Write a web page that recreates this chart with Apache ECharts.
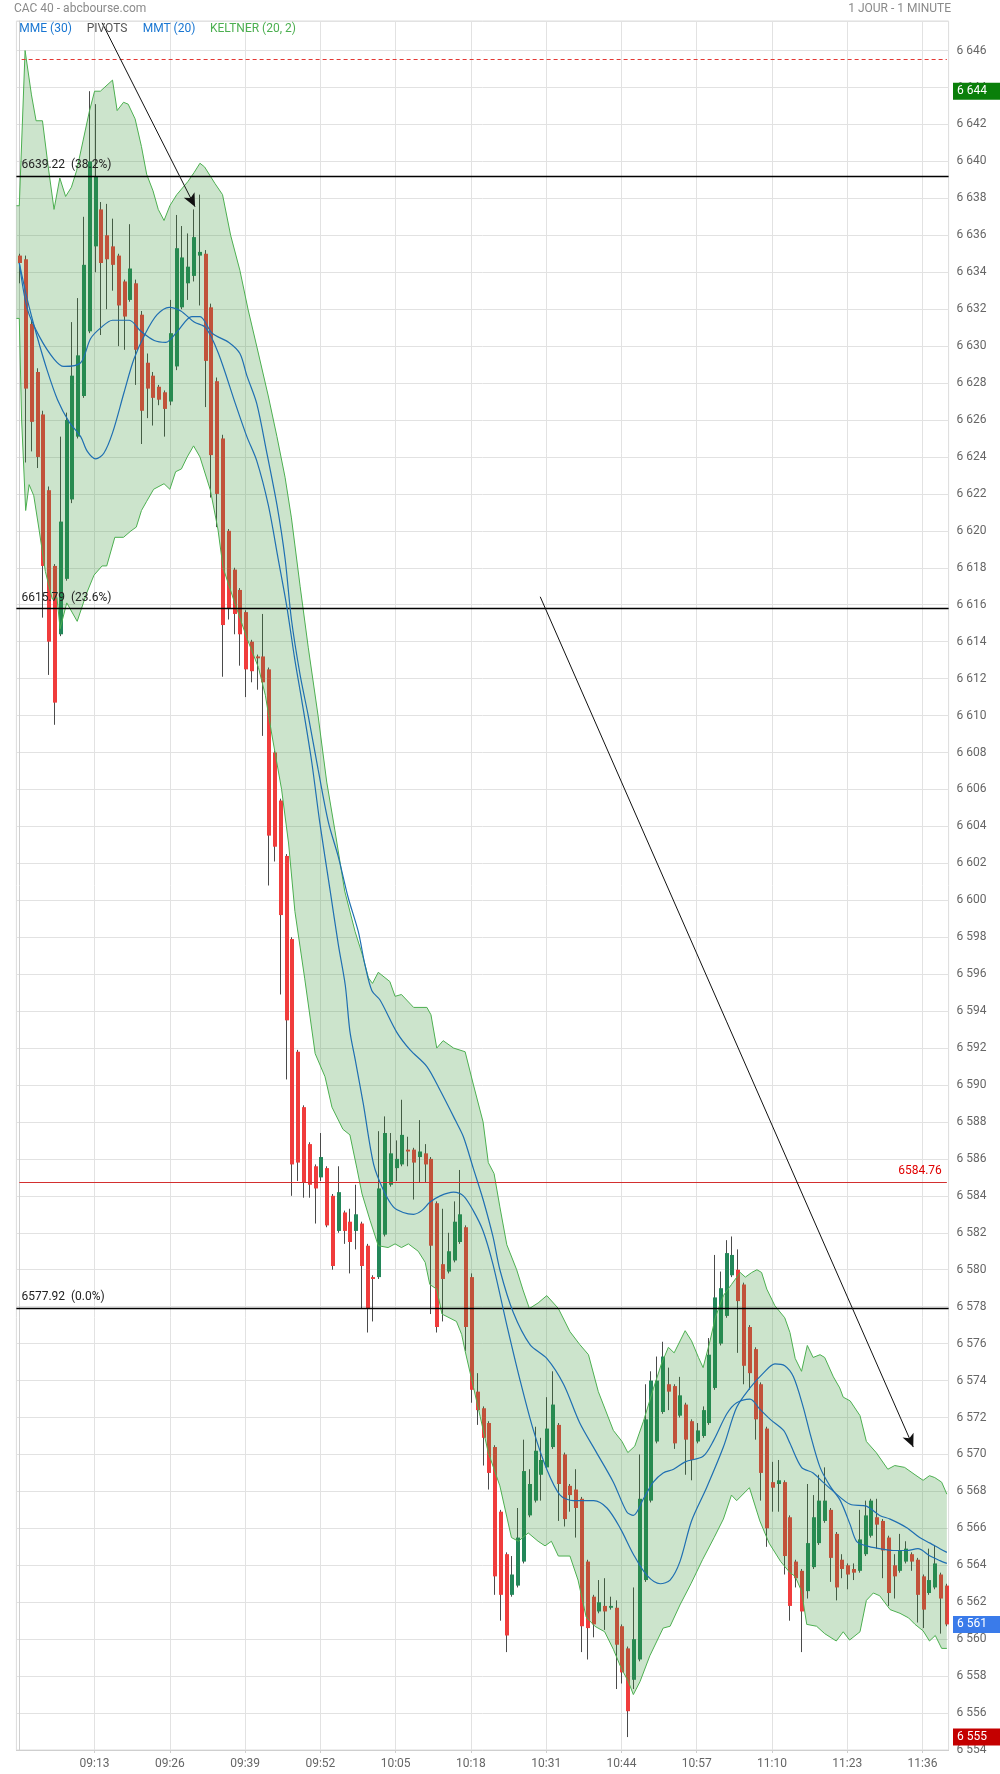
<!DOCTYPE html>
<html><head><meta charset="utf-8">
<script src="https://cdn.jsdelivr.net/npm/echarts@6/dist/echarts.min.js"></script>
<style>html,body{margin:0;padding:0;background:#fff}#c{width:1000px;height:1774px}</style>
</head><body><div id="c"></div>
<script>
// ---- data (1-minute candles from 09:00) ----
const startMinute = 9 * 60;
const timeLabels = ['09:13','09:26','09:39','09:52','10:05','10:18','10:31','10:44','10:57','11:10','11:23','11:36'];
const opens = [
6634.9,6634.7,6631.2,6628.6,6626.3,6622.2,6618.1,6614.4,6617.4,6621.7,
6625.1,6627.3,6630.8,6635.4,6637.4,6636.0,6635.4,6634.9,6633.5,6632.5,
6633.4,6631.7,6629.1,6628.4,6627.8,6627.5,6627.0,6628.9,6632.1,6633.4,
6633.8,6634.9,6635.0,6632.1,6628.1,6625.0,6620.0,6617.9,6616.8,6615.6,
6614.0,6613.2,6613.2,6612.5,6608.0,6605.4,6602.4,6597.9,6591.8,6588.8,
6586.8,6585.6,6585.0,6585.5,6584.0,6582.1,6583.1,6582.6,6582.1,6582.5,
6581.3,6579.6,6579.6,6581.9,6584.6,6585.5,6585.7,6586.5,6586.5,6586.1,
6586.3,6586.0,6583.6,6580.3,6579.9,6580.5,6581.5,6582.3,6579.6,6573.4,
6572.5,6571.7,6570.4,6566.9,6564.6,6562.4,6562.9,6564.2,6566.7,6567.5,
6568.9,6569.3,6570.4,6571.6,6570.0,6568.3,6568.1,6567.6,6564.2,6562.3,
6561.5,6561.8,6561.7,6561.7,6560.7,6559.5,6557.8,6558.9,6563.2,6567.5,
6570.7,6572.3,6573.8,6573.7,6572.1,6572.7,6571.8,6570.7,6571.0,6571.7,
6573.6,6576.0,6577.5,6579.7,6580.0,6579.2,6576.9,6575.7,6573.8,6571.4,
6568.5,6568.4,6568.5,6566.6,6564.2,6563.7,6562.6,6563.9,6565.2,6566.4,
6567.0,6565.7,6564.3,6564.0,6563.8,6563.7,6564.6,6565.6,6566.6,6566.4,
6565.5,6564.0,6563.7,6564.2,6564.6,6564.3,6563.4,6562.5,6562.8,6563.5,
6562.9];
const closes = [
6634.5,6627.7,6625.9,6624.0,6618.1,6614.0,6610.7,6620.5,6626.0,6628.4,
6629.5,6634.4,6640.0,6639.2,6634.5,6634.7,6634.4,6632.2,6631.6,6634.2,
6629.8,6626.5,6627.7,6627.2,6627.1,6626.6,6630.7,6635.3,6634.8,6634.3,
6635.9,6635.1,6629.2,6624.1,6622.0,6614.9,6615.8,6615.5,6614.4,6612.5,
6612.4,6613.1,6611.8,6603.5,6602.9,6599.2,6593.5,6585.7,6585.8,6584.7,
6584.6,6584.4,6586.1,6582.4,6580.2,6584.2,6582.1,6581.5,6583.0,6580.2,
6577.9,6579.5,6584.4,6587.4,6586.3,6586.0,6587.3,6586.4,6585.8,6586.4,
6585.7,6581.3,6576.9,6579.5,6581.0,6582.6,6583.0,6576.9,6573.5,6572.4,
6570.9,6569.0,6563.4,6562.4,6560.2,6563.5,6565.5,6569.1,6568.4,6570.2,
6569.7,6571.4,6572.7,6568.4,6566.5,6567.8,6567.1,6560.7,6560.6,6560.8,
6562.0,6561.5,6561.8,6559.7,6558.2,6556.1,6560.0,6567.6,6571.9,6574.0,
6574.0,6575.3,6573.4,6570.6,6573.2,6570.8,6569.7,6571.3,6572.4,6575.4,
6578.5,6579.0,6580.9,6580.8,6578.3,6574.8,6574.4,6571.9,6569.0,6566.0,
6568.2,6568.6,6564.5,6561.8,6563.3,6561.5,6565.2,6566.6,6567.5,6567.5,
6564.4,6562.8,6563.8,6563.5,6563.6,6565.4,6566.7,6567.5,6566.2,6564.8,
6562.5,6563.4,6564.8,6564.9,6564.2,6562.4,6561.6,6563.2,6564.1,6562.2,
6560.8];
const lows = [
6633.4,6623.7,6624.3,6623.4,6615.3,6612.2,6609.5,6614.3,6617.3,6621.5,
6625.0,6627.2,6630.7,6634.0,6630.6,6632.0,6633.0,6630.0,6629.8,6632.4,
6627.9,6624.7,6626.1,6625.7,6626.8,6625.1,6626.8,6628.7,6632.0,6632.5,
6633.5,6632.2,6626.7,6621.8,6620.2,6612.1,6615.2,6614.4,6612.7,6611.0,
6611.8,6611.4,6608.9,6600.8,6602.1,6594.9,6590.3,6584.0,6584.8,6583.9,
6583.9,6582.5,6584.8,6582.3,6580.0,6582.0,6581.4,6579.8,6581.1,6577.9,
6576.6,6577.2,6579.5,6581.8,6584.5,6584.8,6585.6,6585.6,6583.8,6584.7,
6584.7,6577.6,6576.6,6577.2,6579.8,6580.4,6581.4,6575.6,6572.8,6571.6,
6569.4,6568.1,6562.4,6561.0,6559.3,6562.3,6562.8,6564.1,6566.6,6567.4,
6567.5,6569.2,6570.3,6566.4,6566.1,6566.9,6565.5,6559.3,6558.9,6560.1,
6561.4,6560.5,6561.6,6557.3,6557.6,6554.7,6557.3,6558.8,6563.1,6567.4,
6570.6,6572.2,6572.4,6570.3,6572.0,6568.9,6568.6,6570.6,6570.9,6571.6,
6573.5,6575.9,6577.4,6579.6,6575.5,6573.8,6573.5,6570.8,6567.5,6565.0,
6566.9,6566.9,6563.5,6561.0,6562.8,6559.3,6562.2,6563.8,6565.1,6566.3,
6563.1,6562.1,6563.3,6562.7,6563.2,6563.6,6564.5,6565.5,6564.9,6563.3,
6561.8,6562.2,6563.6,6564.1,6563.7,6560.9,6560.6,6562.4,6562.7,6560.3,
6560.7];
const highs = [
6635.0,6634.9,6631.4,6628.8,6626.5,6622.4,6618.2,6625.1,6626.4,6631.3,
6632.6,6637.0,6643.8,6643.1,6637.8,6637.7,6636.9,6635.0,6633.6,6636.6,
6633.6,6631.9,6629.6,6628.6,6627.9,6627.6,6632.5,6637.1,6636.5,6636.1,
6637.4,6638.2,6635.2,6632.3,6628.3,6625.2,6620.1,6618.0,6616.9,6615.7,
6614.1,6613.3,6615.5,6612.6,6608.1,6605.5,6602.5,6598.0,6591.9,6588.9,
6586.9,6585.7,6587.4,6585.6,6584.1,6585.6,6583.2,6583.3,6584.6,6582.6,
6581.4,6579.7,6587.5,6588.3,6587.4,6587.0,6589.2,6587.2,6586.6,6588.1,
6586.8,6586.1,6583.7,6583.3,6582.0,6583.7,6585.4,6582.4,6579.8,6574.4,
6572.6,6571.8,6570.5,6567.0,6564.7,6564.5,6567.1,6570.8,6569.2,6571.5,
6570.9,6573.1,6574.5,6571.7,6570.1,6568.4,6569.2,6567.7,6564.3,6562.4,
6563.2,6563.3,6562.3,6562.1,6560.8,6559.6,6562.8,6570.0,6573.8,6574.5,
6575.3,6576.1,6574.7,6573.8,6574.2,6572.8,6571.9,6571.7,6572.6,6576.3,
6580.8,6579.9,6581.6,6581.8,6581.1,6579.3,6577.0,6575.8,6573.9,6571.5,
6569.6,6569.7,6568.6,6566.7,6564.3,6563.8,6568.4,6567.8,6568.9,6569.3,
6567.1,6565.8,6564.6,6564.1,6564.1,6567.0,6567.5,6567.6,6567.6,6566.5,
6565.6,6564.6,6565.7,6565.3,6564.7,6564.4,6563.5,6564.9,6565.1,6563.6,
6563.0];
// Keltner (20,2) band edges: [minute index, price]
const keltnerUpper = [[-0.5,6637.6],[0,6637.6],[1,6646.0],[2.1,6643.6],[2.9,6642.2],[4,6642.2],[5,6639.7],[6,6637.4],[7,6639.1],[8,6638.1],[9,6638.6],[9.9,6639.5],[11,6641.1],[12.1,6642.7],[13,6643.8],[14,6643.8],[16.1,6644.4],[16.9,6642.75],[18,6643.2],[18.8,6643.1],[20,6642.3],[21.1,6640.8],[22,6639.3],[23.1,6638.4],[24,6637.4],[25,6636.8],[26,6637.6],[27.2,6638.2],[29.1,6638.9],[30.2,6639.4],[31.2,6639.9],[32,6639.7],[33.8,6638.8],[35.1,6638.2],[36.5,6636.0],[38.1,6634.1],[39.5,6632.0],[41,6630.0],[43,6627.3],[44.5,6625.1],[45.9,6622.9],[47,6620.7],[48.5,6617.0],[49.9,6613.7],[51.6,6610.0],[53.1,6606.4],[54.5,6603.8],[56.2,6600.5],[58,6598.3],[59.3,6597.0],[60.3,6595.8],[61,6595.5],[62,6596.1],[64,6595.6],[64.9,6594.8],[66,6594.9],[68.1,6594.2],[70.4,6594.2],[71.1,6593.8],[72.1,6592.0],[73.2,6592.4],[75,6592.0],[77,6591.8],[78.4,6590.05],[80.1,6588.0],[81,6585.8],[82,6585.2],[83,6583.4],[84.2,6581.35],[85.9,6580.0],[87,6578.9],[88.1,6577.9],[89.6,6578.2],[91.1,6578.6],[93.1,6577.9],[95.1,6576.65],[96.8,6575.95],[98.3,6575.4],[100,6573.4],[102.6,6571.3],[104.1,6570.7],[105.1,6570.1],[106.3,6570.45],[107.8,6571.8],[109.5,6573.55],[110.9,6574.9],[112.1,6575.8],[113.1,6575.5],[115,6576.7],[116.1,6576.15],[117.3,6575.25],[118.1,6574.7],[119.3,6576.15],[120.2,6577.4],[121.6,6578.6],[123,6579.2],[124.5,6579.85],[125.4,6579.6],[126.5,6579.85],[127.4,6580.0],[128.2,6579.85],[129.1,6578.95],[130.5,6578.05],[132.2,6577.4],[133.1,6576.6],[134,6575.2],[135.1,6574.5],[136.1,6575.9],[137.1,6575.25],[138.3,6575.4],[139.1,6575.25],[140.6,6574.2],[141.7,6573.6],[142.3,6573.1],[143.5,6572.9],[145.2,6572.1],[146.3,6570.7],[148,6570.1],[150,6569.2],[151.2,6569.4],[152.9,6569.3],[154.7,6568.9],[156.1,6568.6],[157.2,6568.85],[158.1,6568.75],[159.3,6568.5],[160.2,6567.85]];
const keltnerLower = [[-0.5,6631.5],[0,6631.5],[0.4,6626.0],[1.1,6621.1],[1.7,6622.5],[2.5,6621.9],[3.4,6620.1],[4.5,6617.8],[5.7,6616.3],[6.5,6616.4],[7.05,6614.7],[8.2,6616.1],[10,6615.1],[11.6,6616.6],[12.9,6617.6],[14.3,6618.1],[15.1,6618.1],[16.5,6619.65],[18,6619.65],[19.3,6620.0],[20.2,6620.2],[21.1,6621.1],[22,6621.6],[23.2,6622.25],[25,6622.55],[26,6622.25],[27,6623.2],[28,6623.35],[29,6624.0],[30.1,6624.6],[31.2,6624.0],[33,6622.2],[34.3,6620.1],[35.2,6618.0],[37.1,6616.2],[39.3,6614.2],[41.3,6612.6],[42.5,6611.1],[43.6,6609.0],[45.3,6606.0],[46.5,6603.1],[47.6,6599.4],[49.3,6595.75],[51.1,6591.7],[52.8,6590.45],[54,6588.8],[55.9,6587.6],[57.1,6587.3],[58.3,6585.5],[59.2,6584.1],[60.6,6582.65],[62,6581.3],[63.7,6581.2],[64.9,6581.4],[66,6581.2],[67.2,6581.4],[68.9,6581.0],[70.1,6580.4],[70.9,6579.2],[72.1,6578.95],[73,6577.6],[75.5,6577.2],[76.4,6576.5],[77,6575.6],[79.6,6572.05],[81,6570.1],[83,6568.3],[85,6565.5],[86.2,6565.3],[87.9,6565.75],[89.6,6565.3],[90.8,6565.05],[91.9,6565.3],[93.1,6564.5],[95.1,6564.5],[96.5,6563.2],[97.9,6561.2],[99.4,6560.7],[101.1,6560.4],[102.6,6559.45],[104,6558.4],[105.2,6557.7],[106.05,6557.0],[107.2,6557.7],[108.9,6559.1],[111.2,6560.6],[112.4,6560.7],[114.1,6561.85],[116,6563.0],[118,6564.3],[120,6565.5],[121.6,6566.5],[123,6567.8],[123.9,6567.5],[126.1,6568.2],[127.9,6566.4],[129.5,6565.2],[131.5,6564.2],[133.1,6563.6],[134,6563.4],[135.1,6562.6],[136,6560.8],[137.7,6560.7],[139.1,6560.3],[141.1,6559.9],[142.3,6560.4],[143.4,6559.95],[145.2,6560.4],[146.3,6562.1],[147.5,6562.5],[148.6,6562.35],[150.4,6561.6],[152.1,6561.4],[153.6,6561.15],[154.7,6560.8],[156.1,6560.45],[157.2,6559.9],[158.2,6560.2],[159.3,6559.5],[160.2,6559.5]];
// moving averages
const mmt20 = [[0,6634.5],[1.4,6632.0],[3.5,6630.5],[6,6629.3],[7.7,6628.9],[10.6,6629.1],[12.3,6630.4],[14.1,6631.0],[16.1,6631.4],[19,6631.4],[21,6630.8],[23.3,6630.3],[25.3,6630.2],[27.3,6630.8],[29.8,6631.6],[31.2,6631.6],[33.3,6630.7],[36.2,6630.2],[38.1,6629.6],[39.3,6628.4],[41,6626.9],[42.7,6624.3],[44.5,6621.4],[45.9,6618.5],[47,6615.2],[48.5,6612.2],[49.9,6610.0],[51.6,6607.1],[53.4,6604.2],[55.1,6602.35],[56.8,6600.15],[58.55,6598.3],[59.7,6596.5],[60.9,6595.1],[62.3,6594.6],[65.2,6592.85],[67.5,6591.9],[70.4,6591.0],[72.7,6589.7],[75.3,6588.1],[76.7,6587.2],[78.4,6585.5],[80.1,6583.8],[81.8,6581.8],[83,6580.0],[85.3,6577.7],[88.2,6575.95],[91.1,6575.2],[94,6573.8],[96.8,6571.7],[99.7,6570.1],[102.6,6568.5],[104.9,6566.9],[106.05,6566.7],[107.8,6567.6],[109.5,6568.5],[111.2,6569.0],[113,6569.2],[115,6569.6],[118.1,6569.9],[119.9,6570.75],[122.2,6572.2],[123.9,6572.8],[126.2,6573.0],[127.9,6572.45],[129.7,6571.9],[132,6571.3],[133.1,6570.6],[135.1,6569.3],[137.1,6569.0],[138.8,6568.5],[140.6,6568.0],[143.5,6567.3],[146.3,6567.2],[148.6,6566.7],[150.4,6566.5],[153.2,6566.05],[155.5,6565.5],[157.3,6565.2],[159,6564.9],[160.2,6564.7]];
const mme30 = [[0,6634.5],[1.4,6632.5],[3,6630.6],[4.8,6628.7],[6.6,6627.1],[8.6,6625.9],[10.6,6625.1],[11.75,6624.3],[13.2,6623.9],[14.6,6624.2],[16.1,6625.3],[18.1,6627.5],[19.8,6629.3],[21.8,6630.7],[23.8,6631.7],[25.9,6632.1],[27.9,6631.9],[30.2,6631.3],[32.2,6631.0],[34.4,6629.6],[37.3,6626.9],[39.3,6625.1],[41,6623.8],[43,6621.4],[44.7,6618.5],[46.2,6615.9],[47.6,6613.0],[48.8,6610.8],[50.5,6607.5],[51.9,6604.2],[53.7,6600.5],[55.1,6597.6],[56.3,6595.4],[57.1,6592.9],[58,6591.4],[59.4,6589.0],[61.2,6585.7],[62.9,6584.3],[64.6,6583.4],[66.3,6583.1],[68.1,6583.0],[69.5,6583.2],[70.9,6583.65],[72.7,6584.0],[75,6584.2],[76.7,6584.0],[78.4,6583.2],[80.1,6582.1],[81.8,6580.3],[84.2,6577.0],[86.5,6574.0],[88.8,6571.3],[91.1,6569.2],[93.4,6567.8],[95.7,6567.5],[99.2,6567.5],[101.5,6567.1],[103.8,6566.0],[106.05,6564.6],[108.4,6563.45],[110.7,6563.0],[112.4,6563.2],[114.1,6564.2],[116.1,6566.4],[118.7,6568.2],[121.6,6570.4],[123.9,6572.55],[126.2,6573.6],[128.5,6574.4],[130.5,6574.9],[132.2,6574.8],[133.7,6574.2],[135.4,6572.55],[136.6,6571.1],[138.3,6569.3],[140,6568.3],[141.8,6567.5],[143.5,6566.2],[144.6,6565.3],[146.3,6565.05],[148.6,6564.9],[150.9,6564.8],[153.2,6564.8],[155.2,6564.9],[157.3,6564.5],[159,6564.25],[160.2,6564.1]];
// pivots / annotations
const pivotValues = [6639.22, 6615.79, 6577.92];
const pivotPct = ['38.2%', '23.6%', '0.0%'];
const prevCloseLevel = 6645.55;
const redLevel = 6584.76;
const arrow1 = [[14.3, 6647.5], [30.35, 6637.55]];
const arrow2 = [[89.97, 6616.43], [154.4, 6570.4]];

// ---- build ----
const N = opens.length;
const categories = [];
for (let k = 0; k < N; k++) {
  const t = startMinute + k;
  categories.push(String(Math.floor(t / 60)).padStart(2, '0') + ':' + String(t % 60).padStart(2, '0'));
}
const candleData = opens.map((o, k) => [k, o, closes[k], lows[k], highs[k]]);
const dayHigh = Math.max(...highs), dayLow = Math.min(...lows), lastClose = closes[N - 1];

const GREEN = '#23875a', RED = '#f03c3c', BAND_FILL = 'rgba(51,147,51,0.25)', BAND_LINE = '#4caf50', MA_COLOR = '#1f6fb2';
const FONT = 'Roboto';
const fmtPrice = v => { const s = String(Math.round(v)); return s.slice(0, -3) + ' ' + s.slice(-3); };
const showTime = (idx, val) => timeLabels.indexOf(val) >= 0;

const chart = echarts.init(document.getElementById('c'));

chart.setOption({
  animation: false,
  grid: { left: 16.4, top: 21, width: 932.2, height: 1729, show: true, borderColor: '#dcdcdc', borderWidth: 1, backgroundColor: 'transparent' },
  xAxis: [
    { type: 'category', data: categories, boundaryGap: true,
      axisLine: { lineStyle: { color: '#cfcfcf' } },
      axisTick: { show: true, alignWithLabel: true, interval: showTime, length: 3, lineStyle: { color: '#cfcfcf' } },
      axisLabel: { interval: showTime, color: '#666', fontSize: 12, fontFamily: FONT },
      splitLine: { show: true, interval: showTime, alignWithLabel: true, lineStyle: { color: '#e2e2e2' } } },
    { type: 'value', min: -0.5, max: N - 0.5, show: false }
  ],
  yAxis: { type: 'value', position: 'right', min: 6554, max: 6647.6, interval: 2,
    axisLine: { show: true, lineStyle: { color: '#cfcfcf' } }, axisTick: { show: false },
    splitLine: { lineStyle: { color: '#e2e2e2' } },
    axisLabel: { color: '#666', fontSize: 12, fontFamily: FONT, showMaxLabel: false, padding: [0, 0, 7, 0],
      formatter: v => (Math.abs(v - Math.round(v)) > 1e-6 || Math.round(v) % 2 !== 0) ? '' : fmtPrice(v) } },
  graphic: { elements: [
    { type: 'text', id: 'title', x: 14, y: 8.5, style: { text: 'CAC 40 - abcbourse.com', fill: '#8a8a8a', font: '12px Roboto', verticalAlign: 'middle' } },
    { type: 'text', id: 'period', x: 951, y: 8.5, style: { text: '1 JOUR - 1 MINUTE', fill: '#8a8a8a', font: '12px Roboto', align: 'right', verticalAlign: 'middle' } },
    { type: 'text', id: 'lg1', x: 19.3, y: 29, z: 100, style: { text: 'MME (30)', fill: '#1976d2', font: '12px Roboto', verticalAlign: 'middle' } },
    { type: 'text', id: 'lg2', x: 86.7, y: 29, z: 100, style: { text: 'PIVOTS', fill: '#555', font: '12px Roboto', verticalAlign: 'middle' } },
    { type: 'text', id: 'lg3', x: 142.7, y: 29, z: 100, style: { text: 'MMT (20)', fill: '#1976d2', font: '12px Roboto', verticalAlign: 'middle' } },
    { type: 'text', id: 'lg4', x: 210, y: 29, z: 100, style: { text: 'KELTNER (20, 2)', fill: '#4caf50', font: '12px Roboto', verticalAlign: 'middle' } }
  ] },
  series: [
    { type: 'custom', name: 'candles', xAxisIndex: 0, yAxisIndex: 0, z: 2, silent: true,
      data: candleData, encode: { x: 0, y: [1, 2, 3, 4] },
      renderItem: function (params, api) {
        const k = api.value(0), o = api.value(1), c = api.value(2), l = api.value(3), h = api.value(4);
        const po = api.coord([k, o]), pc = api.coord([k, c]), pl = api.coord([k, l]), ph = api.coord([k, h]);
        const xc = Math.round(po[0]);
        const up = c > o;
        const top = Math.min(po[1], pc[1]), bot = Math.max(po[1], pc[1]);
        return { type: 'group', children: [
          { type: 'line', shape: { x1: xc + 0.5, y1: ph[1], x2: xc + 0.5, y2: pl[1] }, style: { stroke: '#4a4a4a', lineWidth: 1 } },
          { type: 'rect', shape: { x: xc - 1, y: top, width: 4, height: Math.max(bot - top, 1.2) }, style: { fill: up ? GREEN : RED } }
        ] };
      } },
    { type: 'custom', name: 'band', xAxisIndex: 1, yAxisIndex: 0, z: 3, silent: true, clip: true,
      data: [[0, 6600]],
      renderItem: function (params, api) {
        const pts = [];
        keltnerUpper.forEach(p => pts.push(api.coord(p)));
        for (let k = keltnerLower.length - 1; k >= 0; k--) pts.push(api.coord(keltnerLower[k]));
        return { type: 'polygon', shape: { points: pts }, style: { fill: BAND_FILL } };
      } },
    { type: 'line', name: 'upper', xAxisIndex: 1, yAxisIndex: 0, z: 4, silent: true, data: keltnerUpper, showSymbol: false,
      lineStyle: { color: BAND_LINE, width: 1 },
      markLine: { silent: true, symbol: 'none', animation: false,
        data: [
          ...pivotValues.map((v, k) => ({ yAxis: v, lineStyle: { color: '#000', width: 1.3, type: 'solid' },
            label: { show: true, position: 'insideStartTop', formatter: v.toFixed(2) + '  (' + pivotPct[k] + ')', color: '#222', fontSize: 12, fontFamily: FONT } })),
          [ { coord: [0.4, prevCloseLevel], lineStyle: { color: '#e53935', width: 1, type: [4, 3] }, label: { show: false } },
            { coord: [160.2, prevCloseLevel], lineStyle: { color: '#e53935', width: 1, type: [4, 3] }, label: { show: false } } ],
          [ { coord: [0, redLevel], lineStyle: { color: '#d32f2f', width: 1, type: 'solid' },
              label: { show: true, position: 'insideEndTop', formatter: redLevel.toFixed(2), color: '#e00000', fontSize: 12, fontFamily: FONT } },
            { coord: [160.2, redLevel], lineStyle: { color: '#d32f2f', width: 1, type: 'solid' },
              label: { show: true, position: 'insideEndTop', formatter: redLevel.toFixed(2), color: '#e00000', fontSize: 12, fontFamily: FONT } } ]
        ] } },
    { type: 'line', name: 'lower', xAxisIndex: 1, yAxisIndex: 0, z: 4, silent: true, data: keltnerLower, showSymbol: false,
      lineStyle: { color: BAND_LINE, width: 1 },
      markLine: { silent: true, symbol: ['none', 'arrow'], symbolSize: [9, 13], animation: false, label: { show: false },
        lineStyle: { color: '#111', width: 1, type: 'solid' },
        data: [ [ { coord: arrow1[0] }, { coord: arrow1[1] } ], [ { coord: arrow2[0] }, { coord: arrow2[1] } ] ] } },
    { type: 'line', name: 'MMT (20)', xAxisIndex: 1, yAxisIndex: 0, z: 5, silent: true, data: mmt20, showSymbol: false, smooth: 0.3,
      lineStyle: { color: MA_COLOR, width: 1.2 } },
    { type: 'line', name: 'MME (30)', xAxisIndex: 1, yAxisIndex: 0, z: 5, silent: true, data: mme30, showSymbol: false, smooth: 0.3,
      lineStyle: { color: MA_COLOR, width: 1.2 } }
  ]
});

// price tags on the right axis (day high, last, day low), positioned through the y scale
const tagSpecs = [[dayHigh, '#0a7f0a'], [lastClose, '#3a7bea'], [dayLow, '#c40000']];
const tagEls = [];
tagSpecs.forEach(([v, bg], k) => {
  const y = chart.convertToPixel({ yAxisIndex: 0 }, v);
  tagEls.push({ type: 'rect', id: 'tagr' + k, z: 200, shape: { x: 953, y: y - 8.5, width: 47, height: 17 }, style: { fill: bg } });
  tagEls.push({ type: 'text', id: 'tagt' + k, z: 201, x: 957, y: y, style: { text: fmtPrice(v), fill: '#fff', font: '12px Roboto', verticalAlign: 'middle' } });
});
chart.setOption({ graphic: { elements: tagEls } });
</script></body></html>
